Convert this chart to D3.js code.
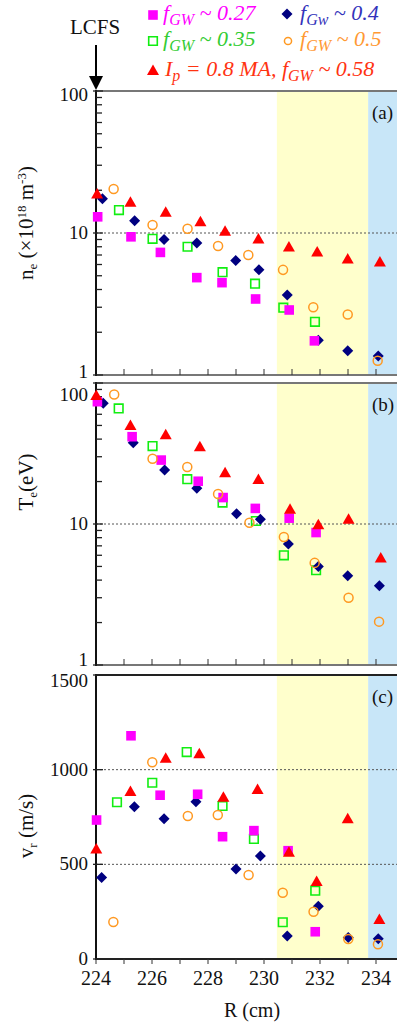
<!DOCTYPE html>
<html>
<head>
<meta charset="utf-8">
<script src="https://cdn.jsdelivr.net/npm/d3@7"></script>
<style>
  body { margin: 0; background: #fff; }
  svg { display: block; }
  svg text, svg tspan { font-family: "Liberation Serif", "Times New Roman", Times, serif !important; }
</style>
</head>
<body>
<script>
// ---- data ----
// panel (a): n_e (10^18 m^-3)
const magR_a = [224.06, 225.25, 226.3, 227.6, 228.5, 229.7, 230.9, 231.8];
const magNe = [13.0, 9.4, 7.3, 4.85, 4.47, 3.43, 2.87, 1.74];
const grnR_a = [224.82, 226.02, 227.27, 228.52, 229.68, 230.69, 231.82];
const grnNe = [14.5, 9.1, 8.0, 5.3, 4.4, 2.98, 2.37];
const navR_a = [224.23, 225.38, 226.43, 227.6, 228.99, 229.82, 230.83, 231.94, 232.99, 234.08];
const navNe = [17.4, 12.2, 9.0, 8.5, 6.4, 5.5, 3.66, 1.76, 1.48, 1.36];
const orgR_a = [224.63, 226.02, 227.27, 228.36, 229.44, 230.68, 231.76, 232.99, 234.06];
const orgNe = [20.4, 11.4, 10.7, 8.1, 7.0, 5.5, 3.0, 2.67, 1.26];
const redR_a = [224.04, 225.23, 226.49, 227.73, 228.61, 229.8, 230.89, 231.9, 232.99, 234.14];
const redNe = [18.7, 16.3, 13.9, 11.9, 10.2, 9.0, 7.9, 7.3, 6.5, 6.2];

// panel (b): T_e (eV)
const magR_b = [224.05, 225.29, 226.33, 227.65, 228.54, 229.69, 230.9, 231.86];
const magTe = [73.7, 41.6, 28.4, 20.1, 15.4, 12.9, 11.0, 8.7];
const grnR_b = [224.81, 226.02, 227.26, 228.52, 229.71, 230.71, 231.86];
const grnTe = [66, 35.7, 20.8, 14.2, 10.5, 6.0, 4.7];
const navR_b = [224.26, 225.33, 226.45, 227.6, 229.02, 229.87, 230.87, 231.94, 232.99, 234.12];
const navTe = [71.8, 37.7, 24.2, 17.9, 11.8, 10.8, 7.2, 5.0, 4.3, 3.65];
const orgR_b = [224.65, 226.02, 227.26, 228.36, 229.48, 230.71, 231.81, 233.02, 234.11];
const orgTe = [83, 29, 25.4, 16.3, 10.2, 8.1, 5.3, 3.0, 2.03];
const redR_b = [224.01, 225.23, 226.49, 227.71, 228.61, 229.8, 230.93, 231.94, 233.02, 234.17];
const redTe = [80.9, 49.5, 42.6, 35, 22.9, 20.5, 12.6, 9.8, 10.7, 5.7];

// panel (c): v_r (m/s)
const magR_c = [224.02, 225.25, 226.29, 227.63, 228.52, 229.64, 230.86, 231.83];
const magVr = [734, 1179, 865, 870, 646, 678, 572, 144];
const grnR_c = [224.75, 226.01, 227.24, 228.52, 229.64, 230.67, 231.83];
const grnVr = [828, 931, 1093, 808, 634, 194, 361];
const navR_c = [224.2, 225.37, 226.43, 227.57, 229.0, 229.87, 230.83, 231.94, 233.01, 234.08];
const navVr = [431, 804, 741, 831, 475, 544, 121, 278, 113, 107];
const orgR_c = [224.62, 226.01, 227.28, 228.35, 229.45, 230.67, 231.77, 233.01, 234.07];
const orgVr = [195, 1039, 755, 761, 444, 350, 250, 106, 78];
const redR_c = [224.01, 225.23, 226.49, 227.69, 228.55, 229.77, 230.89, 231.88, 232.99, 234.12];
const redVr = [579, 882, 1058, 1081, 852, 893, 561, 407, 738, 206];

const xTicks = [224, 226, 228, 230, 232, 234];
const logTicks = [1, 10, 100];
const vrTicks = [0, 500, 1000, 1500];
const regionEdges = [230.46, 233.72]; // yellow / blue shaded zones

// ---- layout ----
const W = 397, H = 1026;
const left = 96, right = 410;
const serifFont = "Liberation Serif";

const svg = d3.select("body").append("svg")
    .attr("width", W)
    .attr("height", H)
    .attr("font-family", serifFont);

const x = d3.scaleLinear().domain([224, 235]).range([left, left + 28 * 11]);

const panels = [
    { id: "a", top: 91, bottom: 375, y: d3.scaleLog().domain([1, 100]).range([375, 91]), log: true,
      grid: [10], ticks: logTicks },
    { id: "b", top: 383, bottom: 665, y: d3.scaleLog().domain([1, 100]).range([665, 383]), log: true,
      grid: [10], ticks: logTicks },
    { id: "c", top: 675, bottom: 959, y: d3.scaleLinear().domain([0, 1500]).range([959, 675]), log: false,
      grid: [500, 1000], ticks: vrTicks }
];

// small nudges of the tick labels, as in the original figure
const labelShift = { "a-1": -3, "a-100": 4, "b-100": 12, "b-1": -5, "c-1500": 6 };

// marker shapes
const diamond = { draw(ctx, s) { const r = 5.5; ctx.moveTo(0, -r); ctx.lineTo(r, 0); ctx.lineTo(0, r); ctx.lineTo(-r, 0); ctx.closePath(); } };
const triangle = { draw(ctx, s) { ctx.moveTo(0, -6.5); ctx.lineTo(6, 4); ctx.lineTo(-6, 4); ctx.closePath(); } };
const square = { draw(ctx, s) { const r = s; ctx.rect(-r, -r, 2 * r, 2 * r); } };

const styles = {
    grn: { type: square, size: 4.3, fill: "none", stroke: "#11ee11", sw: 1.6 },
    nav: { type: diamond, size: 1, fill: "#000080", stroke: "none", sw: 0 },
    mag: { type: square, size: 4.8, fill: "#ff00ff", stroke: "none", sw: 0 },
    org: { type: d3.symbolCircle, size: 64, fill: "none", stroke: "#ff9922", sw: 1.5 },
    red: { type: triangle, size: 1, fill: "#ff0000", stroke: "none", sw: 0 }
};

const seriesData = {
    a: [["grn", grnR_a, grnNe], ["nav", navR_a, navNe], ["mag", magR_a, magNe], ["org", orgR_a, orgNe], ["red", redR_a, redNe]],
    b: [["grn", grnR_b, grnTe], ["nav", navR_b, navTe], ["mag", magR_b, magTe], ["org", orgR_b, orgTe], ["red", redR_b, redTe]],
    c: [["grn", grnR_c, grnVr], ["nav", navR_c, navVr], ["mag", magR_c, magVr], ["org", orgR_c, orgVr], ["red", redR_c, redVr]]
};

function symbolPath(st) {
    return d3.symbol().type(st.type).size(st.size)();
}

function addText(parent) {
    return parent.append("text")
        .attr("font-family", serifFont)
        .style("font-family", '"Liberation Serif"');
}

panels.forEach(p => {
    const g = svg.append("g");

    // shaded regions
    g.append("rect")
        .attr("x", x(regionEdges[0])).attr("y", p.top)
        .attr("width", x(regionEdges[1]) - x(regionEdges[0]))
        .attr("height", p.bottom - p.top)
        .attr("fill", "#ffffcc");
    g.append("rect")
        .attr("x", x(regionEdges[1])).attr("y", p.top)
        .attr("width", right - x(regionEdges[1]))
        .attr("height", p.bottom - p.top)
        .attr("fill", "#c8e6f8");

    // dotted reference lines
    g.selectAll(".grid").data(p.grid).enter().append("line")
        .attr("x1", left).attr("x2", right)
        .attr("y1", d => p.y(d)).attr("y2", d => p.y(d))
        .attr("stroke", "#555").attr("stroke-width", 1)
        .attr("stroke-dasharray", "2,2");

    // frame lines
    g.append("line").attr("x1", left).attr("x2", right).attr("y1", p.top).attr("y2", p.top)
        .attr("stroke", p.id === "c" ? "#222" : "#777").attr("stroke-width", 2);
    g.append("line").attr("x1", left).attr("x2", right).attr("y1", p.bottom).attr("y2", p.bottom)
        .attr("stroke", p.id === "c" ? "#222" : "#777").attr("stroke-width", 2);

    // x ticks (every 1 cm)
    const xt = d3.range(224, 236);
    const tickDir = p.id === "c" ? 5 : -6;
    g.selectAll(".xt").data(xt).enter().append("line")
        .attr("x1", d => x(d)).attr("x2", d => x(d))
        .attr("y1", p.bottom).attr("y2", p.bottom + tickDir)
        .attr("stroke", "#333").attr("stroke-width", 1);

    // y axis line
    g.append("line").attr("x1", left).attr("x2", left).attr("y1", p.top - 1).attr("y2", p.bottom + 1)
        .attr("stroke", "#111").attr("stroke-width", 2);

    // y ticks
    if (p.log) {
        const minor = [];
        [1, 10].forEach(dec => d3.range(2, 10).forEach(k => minor.push(dec * k)));
        g.selectAll(".ymin").data(minor).enter().append("line")
            .attr("x1", left).attr("x2", left + 6)
            .attr("y1", d => p.y(d)).attr("y2", d => p.y(d))
            .attr("stroke", "#222").attr("stroke-width", 1.3);
    }
    g.selectAll(".ymaj").data(p.ticks).enter().append("line")
        .attr("x1", left - 3).attr("x2", left + 7)
        .attr("y1", d => p.y(d)).attr("y2", d => p.y(d))
        .attr("stroke", "#222").attr("stroke-width", 1.3);

    p.ticks.forEach(d => {
        addText(g)
            .attr("x", left - 8)
            .attr("y", p.y(d) + 6 + (labelShift[p.id + "-" + d] || 0))
            .attr("text-anchor", "end")
            .attr("font-size", 19)
            .attr("fill", "#111")
            .text(d);
    });

    // markers
    seriesData[p.id].forEach(([key, rs, vs]) => {
        const st = styles[key];
        const pts = rs.map((r, i) => ({ r: r, v: vs[i] }));
        g.selectAll(".m-" + key).data(pts).enter().append("path")
            .attr("transform", d => `translate(${x(d.r)},${p.y(d.v)})`)
            .attr("d", symbolPath(st))
            .attr("fill", st.fill)
            .attr("stroke", st.stroke)
            .attr("stroke-width", st.sw);
    });

    // panel label
    addText(g)
        .attr("x", 372).attr("y", p.top + 28)
        .attr("font-size", 19).attr("fill", "#111")
        .text(`(${p.id})`);
});

// x tick labels under panel (c)
xTicks.forEach(d => {
    addText(svg)
        .attr("x", x(d)).attr("y", 985)
        .attr("text-anchor", "middle")
        .attr("font-size", 20).attr("fill", "#111")
        .text(d);
});

addText(svg)
    .attr("x", 252).attr("y", 1017)
    .attr("text-anchor", "middle")
    .attr("font-size", 20).attr("fill", "#111")
    .text("R (cm)");

// y axis titles
function yTitle(cx, cy, build) {
    const t = addText(svg)
        .attr("transform", `translate(${cx},${cy}) rotate(-90)`)
        .attr("text-anchor", "middle")
        .attr("font-size", 21).attr("fill", "#111");
    build(t);
}
yTitle(33, 223, t => {
    t.append("tspan").text("n");
    t.append("tspan").attr("dy", 4).attr("font-size", 13).text("e");
    t.append("tspan").attr("dy", -4).text(" (\u00d710");
    t.append("tspan").attr("dy", -7).attr("font-size", 13).text("18");
    t.append("tspan").attr("dy", 7).text(" m");
    t.append("tspan").attr("dy", -7).attr("font-size", 13).text("-3");
    t.append("tspan").attr("dy", 7).text(")");
});
yTitle(33, 482, t => {
    t.append("tspan").text("T");
    t.append("tspan").attr("dy", 4).attr("font-size", 13).text("e");
    t.append("tspan").attr("dy", -4).text("(eV)");
});
yTitle(33, 826, t => {
    t.append("tspan").text("v");
    t.append("tspan").attr("dy", 4).attr("font-size", 13).text("r");
    t.append("tspan").attr("dy", -4).text(" (m/s)");
});

// LCFS marker
addText(svg)
    .attr("x", 95).attr("y", 34)
    .attr("text-anchor", "middle")
    .attr("font-size", 21).attr("fill", "#111")
    .text("LCFS");
svg.append("line")
    .attr("x1", 96).attr("x2", 96).attr("y1", 45).attr("y2", 78)
    .attr("stroke", "#000").attr("stroke-width", 2);
svg.append("path")
    .attr("d", "M89,76 L103,76 L96,90 Z")
    .attr("fill", "#000");

// legend
const legendRows = [
    { key: "mag", x: 153, y: 15, tx: 163, ty: 20, color: "#ff00ff", sub: "GW", val: "0.27" },
    { key: "nav", x: 287, y: 14, tx: 300, ty: 20, color: "#3333bb", sub: "Gw", val: "0.4" },
    { key: "grn", x: 153, y: 41, tx: 163, ty: 46, color: "#33cc33", sub: "GW", val: "0.35" },
    { key: "org", x: 288, y: 41, tx: 300, ty: 46, color: "#ff9933", sub: "GW", val: "0.5" }
];
legendRows.forEach(r => {
    const st = styles[r.key];
    svg.append("path")
        .attr("transform", `translate(${r.x},${r.y})`)
        .attr("d", symbolPath(r.key === "org" ? { type: d3.symbolCircle, size: 40 } : st))
        .attr("fill", st.fill).attr("stroke", st.stroke).attr("stroke-width", st.sw);
    const t = addText(svg)
        .attr("x", r.tx).attr("y", r.ty)
        .attr("font-size", 22).attr("font-style", "italic").attr("fill", r.color);
    t.append("tspan").text("f");
    t.append("tspan").attr("dy", 5).attr("font-size", 16).text(r.sub);
    t.append("tspan").attr("dy", -5).text(" ~ " + r.val);
});
svg.append("path")
    .attr("transform", "translate(153,71)")
    .attr("d", symbolPath(styles.red))
    .attr("fill", "#ff0000");
const ip = addText(svg)
    .attr("x", 165).attr("y", 76)
    .attr("font-size", 22).attr("font-style", "italic").attr("fill", "#ff3311");
ip.append("tspan").text("I");
ip.append("tspan").attr("dy", 5).attr("font-size", 16).text("p");
ip.append("tspan").attr("dy", -5).text(" = 0.8 MA, f");
ip.append("tspan").attr("dy", 5).attr("font-size", 16).text("GW");
ip.append("tspan").attr("dy", -5).text(" ~ 0.58");
</script>
</body>
</html>
